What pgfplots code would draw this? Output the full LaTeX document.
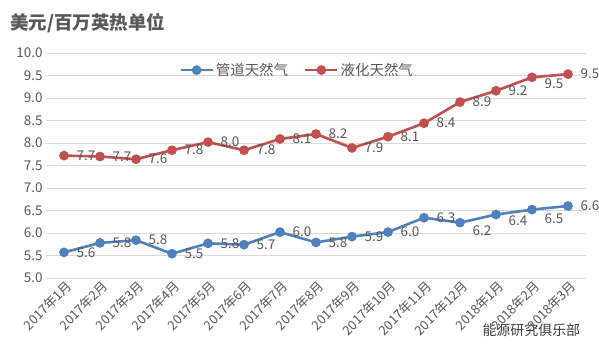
\documentclass[border=0pt]{standalone}
\usepackage{pgfplots}
\pgfplotsset{compat=1.18}
\usepackage{fontspec}
\setmainfont{Noto Sans CJK SC}
\definecolor{cblue}{HTML}{4F81BD}
\definecolor{cred}{HTML}{C0504D}
\definecolor{ctext}{HTML}{595959}
\definecolor{cgrid}{HTML}{D9D9D9}
\begin{document}
\begin{tikzpicture}
\useasboundingbox (0,0) rectangle (599bp,356bp);
\fill[white] (0,0) rectangle (599bp,356bp);
\node[anchor=west, text=ctext, font=\fontsize{18.5}{21}\selectfont\bfseries] at (7bp,333bp) {美元/百万英热单位};
\begin{axis}[
  at={(46bp,78bp)}, anchor=south west,
  scale only axis, width=540bp, height=225bp,
  xmin=-0.5, xmax=14.5, ymin=5, ymax=10,
  ytick={5,5.5,...,10},
  yticklabel={\pgfmathprintnumber[fixed,fixed zerofill,precision=1]{\tick}},
  /pgf/number format/assume math mode=true,
  xtick={0,...,14},
  xticklabels={2017年1月,2017年2月,2017年3月,2017年4月,2017年5月,2017年6月,2017年7月,2017年8月,2017年9月,2017年10月,2017年11月,2017年12月,2018年1月,2018年2月,2018年3月},
  xticklabel style={rotate=45, anchor=east, font=\fontsize{13}{15}\selectfont, text=ctext, inner sep=1bp, yshift=-8bp, xshift=1bp},
  yticklabel style={font=\fontsize{13.5}{15}\selectfont, text=ctext},
  ymajorgrids, major grid style={cgrid, line width=0.8bp},
  axis line style={draw=none},
  major tick length=0pt,
  legend columns=2,
  legend style={at={(0.465,0.924)}, anchor=center, draw=none, fill=none,
    font=\fontsize{14.5}{16}\selectfont, text=ctext,
    /tikz/every even column/.append style={column sep=14bp}},
  legend image code/.code={\draw[mark repeat=2,mark phase=2] plot coordinates {(0bp,0bp)(16bp,0bp)(32bp,0bp)};},
  visualization depends on={\thisrowno{2} \as \dy},
  every node near coord/.append style={anchor=west, xshift=8bp, yshift={-\dy bp}, font=\fontsize{13.5}{15}\selectfont, text=ctext},
  nodes near coords={\pgfmathprintnumber[fixed,fixed zerofill,precision=1]{\pgfplotspointmeta}},
  clip=false,
]
\addplot[cblue, line width=2.6bp, mark=*, mark size=3.5bp, mark options={fill=cblue}] table[x index=0, y index=1] {
0 5.57 0
1 5.78 0
2 5.84 0
3 5.54 0
4 5.77 0
5 5.74 0
6 6.02 0
7 5.79 0
8 5.92 0
9 6.02 0
10 6.34 0
11 6.23 8
12 6.41 6
13 6.52 9
14 6.60 0
};
\addlegendentry{管道天然气}
\addplot[cred, line width=2.6bp, mark=*, mark size=3.5bp, mark options={fill=cred}] table[x index=0, y index=1] {
0 7.72 0
1 7.70 0
2 7.64 0
3 7.84 0
4 8.02 0
5 7.84 0
6 8.09 0
7 8.20 0
8 7.89 0
9 8.14 0
10 8.44 0
11 8.91 0
12 9.16 0
13 9.46 6
14 9.53 0
};
\addlegendentry{液化天然气}
\end{axis}
\node[anchor=west, text=black!75, font=\fontsize{14}{16}\selectfont] at (479bp,26bp) {能源研究俱乐部};
\end{tikzpicture}
\end{document}
